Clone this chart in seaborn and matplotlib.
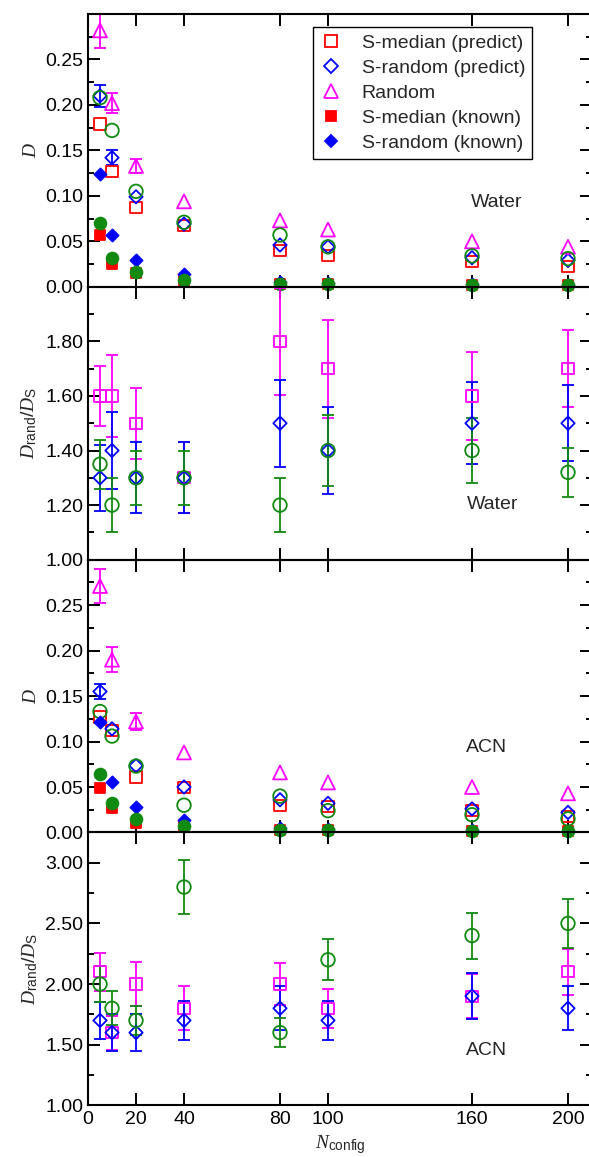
import numpy as np
import matplotlib
matplotlib.use("Agg")
import matplotlib.pyplot as plt
from matplotlib.lines import Line2D
from matplotlib.ticker import MultipleLocator, FormatStrFormatter, FixedLocator
import seaborn as sns

# number of configurations
n_config = [5, 10, 20, 40, 80, 100, 160, 200]
x_ticks = [0, 20, 40, 80, 100, 160, 200]

# ---- Water, D values ----
w_smed_pred = [0.179, 0.127, 0.087, 0.067, 0.040, 0.034, 0.028, 0.022]
w_srand_pred = [0.210, 0.142, 0.099, 0.069, 0.046, 0.044, 0.032, 0.029]
w_srand_pred_err = [0.012, 0.008, 0, 0, 0, 0, 0, 0]
w_random = [0.282, 0.202, 0.133, 0.094, 0.073, 0.063, 0.050, 0.044]
w_random_err = [0.019, 0.011, 0.008, 0, 0, 0, 0, 0]
w_green_open = [0.208, 0.172, 0.105, 0.071, 0.057, 0.044, 0.034, 0.031]
w_smed_known = [0.057, 0.025, 0.015, 0.006, 0.003, 0.003, 0.002, 0.002]
w_srand_known = [0.124, 0.057, 0.029, 0.014, 0.005, 0.004, 0.003, 0.002]
w_green_filled = [0.070, 0.032, 0.016, 0.007, 0.003, 0.003, 0.002, 0.002]

# ---- Water, D_rand / D_S ----
w_ratio_med = [1.60, 1.60, 1.50, 1.30, 1.80, 1.70, 1.60, 1.70]
w_ratio_med_err = [0.11, 0.15, 0.13, 0.13, 0.195, 0.18, 0.16, 0.14]
w_ratio_rand = [1.30, 1.40, 1.30, 1.30, 1.50, 1.40, 1.50, 1.50]
w_ratio_rand_err = [0.12, 0.14, 0.13, 0.13, 0.16, 0.16, 0.15, 0.14]
w_ratio_green = [1.35, 1.20, 1.30, 1.30, 1.20, 1.40, 1.40, 1.32]
w_ratio_green_err = [0.09, 0.10, 0.10, 0.10, 0.10, 0.13, 0.12, 0.09]

# ---- ACN, D values ----
a_smed_pred = [0.127, 0.112, 0.061, 0.049, 0.030, 0.029, 0.024, 0.018]
a_srand_pred = [0.155, 0.114, 0.0735, 0.050, 0.036, 0.032, 0.026, 0.022]
a_srand_pred_err = [0.008, 0, 0, 0, 0, 0, 0, 0]
a_random = [0.271, 0.190, 0.122, 0.088, 0.066, 0.055, 0.050, 0.043]
a_random_err = [0.019, 0.014, 0.009, 0, 0, 0, 0, 0]
a_green_open = [0.133, 0.106, 0.073, 0.030, 0.040, 0.024, 0.0195, 0.015]
a_smed_known = [0.049, 0.027, 0.010, 0.006, 0.003, 0.003, 0.002, 0.002]
a_srand_known = [0.121, 0.056, 0.028, 0.014, 0.005, 0.004, 0.003, 0.002]
a_green_filled = [0.064, 0.032, 0.015, 0.007, 0.003, 0.003, 0.002, 0.002]

# ---- ACN, D_rand / D_S ----
a_ratio_med = [2.10, 1.60, 2.00, 1.80, 2.00, 1.80, 1.90, 2.10]
a_ratio_med_err = [0.16, 0.14, 0.18, 0.18, 0.17, 0.16, 0.18, 0.19]
a_ratio_rand = [1.70, 1.60, 1.60, 1.70, 1.80, 1.70, 1.90, 1.80]
a_ratio_rand_err = [0.15, 0.15, 0.15, 0.16, 0.18, 0.16, 0.19, 0.18]
a_ratio_green = [2.00, 1.80, 1.70, 2.80, 1.60, 2.20, 2.40, 2.50]
a_ratio_green_err = [0.15, 0.14, 0.12, 0.22, 0.12, 0.17, 0.19, 0.20]

legend_labels = ["S-median (predict)", "S-random (predict)", "Random",
                 "S-median (known)", "S-random (known)"]

RED, BLUE, MAG, GREEN = "#ff0000", "#0000ff", "#ff00ff", "#108a10"
LW = 1.3

sns.set_theme(style="ticks")
plt.rcParams["font.family"] = ["Liberation Sans", "DejaVu Sans"]
plt.rcParams.update({
    "font.size": 14,
    "mathtext.fontset": "custom",
    "mathtext.it": "Liberation Serif:italic",
    "mathtext.rm": "Liberation Sans",
    "mathtext.sf": "Liberation Sans",
    "axes.linewidth": 1.5,
    "axes.edgecolor": "black",
    "xtick.direction": "in",
    "ytick.direction": "in",
    "xtick.top": True,
    "ytick.right": True,
    "xtick.major.size": 8.5,
    "ytick.major.size": 8.5,
    "ytick.minor.size": 4.3,
    "xtick.major.width": 1.4,
    "ytick.major.width": 1.4,
    "ytick.minor.width": 1.4,
    "xtick.labelsize": 14,
    "ytick.labelsize": 14,
    "xtick.color": "black",
    "ytick.color": "black",
    "xtick.major.pad": 4,
})


def pts(ax, y, marker, color, s, filled=False, z=3):
    sns.scatterplot(x=n_config, y=y, marker=marker, s=s,
                    facecolor=color if filled else "none", edgecolor=color,
                    linewidth=LW, ax=ax, zorder=z, clip_on=False, legend=False)


def bars(ax, y, err, color, z=2):
    x = [n for n, e in zip(n_config, err) if e > 0]
    yy = [v for v, e in zip(y, err) if e > 0]
    ee = [e for e in err if e > 0]
    if x:
        ax.errorbar(x, yy, yerr=ee, fmt="none", ecolor=color, elinewidth=LW,
                    capsize=4.3, capthick=LW, zorder=z)


def d_panel(ax, smed_p, srand_p, srand_e, rnd, rnd_e, g_open, smed_k, srand_k, g_fill):
    bars(ax, srand_p, srand_e, BLUE)
    bars(ax, rnd, rnd_e, MAG)
    pts(ax, smed_p, "s", RED, 64)
    pts(ax, srand_p, "D", BLUE, 46)
    pts(ax, rnd, "^", MAG, 100)
    pts(ax, g_open, "o", GREEN, 95)
    pts(ax, smed_k, "s", RED, 52, filled=True)
    pts(ax, srand_k, "D", BLUE, 38, filled=True)
    pts(ax, g_fill, "o", GREEN, 72, filled=True)
    ax.set_ylim(0, 0.30)
    ax.yaxis.set_major_locator(FixedLocator([0, 0.05, 0.10, 0.15, 0.20, 0.25]))
    ax.yaxis.set_minor_locator(MultipleLocator(0.025))
    ax.set_ylabel(r"$\mathit{D}$", fontsize=14, labelpad=4)


def ratio_panel(ax, med, med_e, rnd, rnd_e, grn, grn_e):
    bars(ax, med, med_e, MAG)
    bars(ax, rnd, rnd_e, BLUE)
    bars(ax, grn, grn_e, GREEN)
    for y, m, c, s in [(med, "s", MAG, 64), (rnd, "D", BLUE, 46), (grn, "o", GREEN, 95)]:
        sns.scatterplot(x=n_config, y=y, marker=m, s=s, facecolor="none",
                        edgecolor=c, linewidth=LW, ax=ax, zorder=3, legend=False)
    ax.set_ylabel(r"$\mathit{D}_{\mathrm{rand}}/\mathit{D}_{\mathrm{S}}$",
                  fontsize=14, labelpad=4)


fig = plt.figure(figsize=(5.89, 11.57), dpi=100)
W, H = 589.0, 1157.0
left_px, right_px = 88.0, 592.0
top_px, bot_px = 14.0, 1105.3
ph = (bot_px - top_px) / 4
axes = []
for i in range(4):
    b = H - (top_px + (i + 1) * ph)
    ax = fig.add_axes([left_px / W, b / H, (right_px - left_px) / W, ph / H])
    ax.patch.set_alpha(0)
    axes.append(ax)

d_panel(axes[0], w_smed_pred, w_srand_pred, w_srand_pred_err, w_random, w_random_err,
        w_green_open, w_smed_known, w_srand_known, w_green_filled)
ratio_panel(axes[1], w_ratio_med, w_ratio_med_err, w_ratio_rand, w_ratio_rand_err,
            w_ratio_green, w_ratio_green_err)
axes[1].set_ylim(1.0, 2.0)
axes[1].yaxis.set_major_locator(FixedLocator([1.0, 1.2, 1.4, 1.6, 1.8]))
axes[1].yaxis.set_minor_locator(MultipleLocator(0.1))

d_panel(axes[2], a_smed_pred, a_srand_pred, a_srand_pred_err, a_random, a_random_err,
        a_green_open, a_smed_known, a_srand_known, a_green_filled)
ratio_panel(axes[3], a_ratio_med, a_ratio_med_err, a_ratio_rand, a_ratio_rand_err,
            a_ratio_green, a_ratio_green_err)
axes[3].set_ylim(1.0, 3.25)
axes[3].yaxis.set_major_locator(FixedLocator([1.0, 1.5, 2.0, 2.5, 3.0]))
axes[3].yaxis.set_minor_locator(MultipleLocator(0.25))

for i, ax in enumerate(axes):
    ax.set_xlim(0, 210)
    ax.xaxis.set_major_locator(FixedLocator(x_ticks))
    ax.xaxis.set_minor_locator(FixedLocator([]))
    ax.yaxis.set_major_formatter(FormatStrFormatter("%.2f"))
    ax.tick_params(axis="both", which="both", direction="in", top=True, right=True)
    for sp in ax.spines.values():
        sp.set_visible(True)
        sp.set_linewidth(1.5)
    if i < 3:
        ax.tick_params(axis="x", labelbottom=False)
    ax.set_xlabel("")

axes[3].set_xlabel(r"$\mathit{N}_{\mathrm{config}}$", fontsize=14, labelpad=4)

panel_names = [("Water", 0.811, 0.31), ("Water", 0.802, 0.202),
               ("ACN", 0.79, 0.311), ("ACN", 0.79, 0.202)]
for ax, (name, tx, ty) in zip(axes, panel_names):
    ax.text(tx, ty, name, transform=ax.transAxes, ha="center", va="center", fontsize=14)

handles = [
    Line2D([], [], ls="none", marker="s", ms=8, mfc="none", mec=RED, mew=LW),
    Line2D([], [], ls="none", marker="D", ms=6.8, mfc="none", mec=BLUE, mew=LW),
    Line2D([], [], ls="none", marker="^", ms=10, mfc="none", mec=MAG, mew=LW),
    Line2D([], [], ls="none", marker="s", ms=7.2, mfc=RED, mec=RED, mew=LW),
    Line2D([], [], ls="none", marker="D", ms=6.2, mfc=BLUE, mec=BLUE, mew=LW),
]
leg = axes[0].legend(handles, legend_labels, loc="upper right",
                     bbox_to_anchor=(0.881, 0.952), borderaxespad=0,
                     frameon=True, fancybox=False, edgecolor="black",
                     framealpha=1, fontsize=14, handlelength=1.15,
                     handletextpad=0.98, labelspacing=0.39, borderpad=0.35)
leg.get_frame().set_linewidth(1.0)

fig.align_ylabels(axes)
fig.savefig("out.png", dpi=100)
